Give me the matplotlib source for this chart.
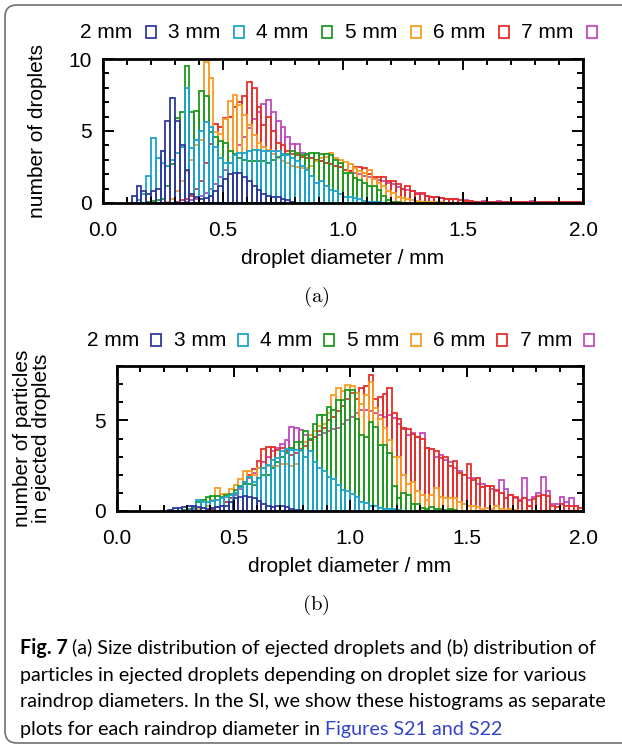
import numpy as np
import matplotlib
matplotlib.use("Agg")
import matplotlib.pyplot as plt
from matplotlib.patches import Rectangle, FancyBboxPatch
from matplotlib.ticker import MultipleLocator

plt.rcParams['font.family'] = ['Liberation Sans Narrow', 'Liberation Sans', 'DejaVu Sans']
plt.rcParams['mathtext.fontset'] = 'cm'

W, H = 622, 747
def fx(px):
    return px / W
def fy(py):
    return 1 - py / H

bin_w = 0.02
labels = ['2 mm', '3 mm', '4 mm', '5 mm', '6 mm', '7 mm']
colors = ['#2e3c9c', '#1ca5c8', '#1f9a1f', '#fb9b25', '#e5302b', '#c24bbd']

# (a) number of droplets, one value per 0.02 mm bin, starting at a_starts
a_starts = [0.12, 0.14, 0.18, 0.26, 0.30, 0.34]
a_2mm = [0.5, 1.15, 0.8, 0.6, 0.85, 1.0, 3.6, 5.7, 7.3, 5.7, 4.0, 2.3, 0.6, 0.4, 0.3,
         0.35, 0.5, 0.8, 1.2, 1.7, 2.0, 2.1, 2.05, 1.8, 1.5, 1.2, 0.9, 0.6, 0.5, 0.4,
         0.4, 0.3, 0.2, 0.1]
a_3mm = [0.2, 0.6, 1.9, 4.5, 3.1, 2.8, 2.6, 3.0, 3.5, 3.9, 8.0, 3.8, 4.4, 5.0, 5.6,
         5.3, 3.9, 3.1, 2.8, 2.8, 3.3, 3.5, 3.5, 3.6, 3.7, 3.7, 3.6, 3.6, 3.6, 3.6,
         3.4, 3.3, 3.1, 2.9, 2.6, 2.3, 1.9, 1.4, 1.5, 1.15, 0.9, 0.8, 0.6, 0.45, 0.4,
         0.35, 0.25, 0.15, 0.1, 0.08, 0.05]
a_4mm = [0.1, 0.15, 0.2, 0.3, 1.2, 2.7, 5.9, 6.3, 9.5, 6.3, 6.4, 7.8, 7.4, 4.9, 4.6,
         4.3, 4.2, 3.6, 3.4, 3.1, 3.0, 2.9, 2.9, 2.9, 2.9, 2.8, 3.0, 3.2, 3.3, 3.4,
         3.6, 3.5, 3.3, 3.4, 3.5, 3.5, 3.4, 3.4, 3.3, 3.0, 2.75, 2.1, 2.1, 1.75, 1.6,
         1.4, 1.2, 1.2, 0.9, 0.5, 0.2, 0.1, 0.05]
a_5mm = [0.1, 0.3, 0.8, 1.5, 2.2, 3.0, 4.0, 4.4, 9.8, 8.7, 4.9, 4.8, 5.8, 7.1, 7.5,
         6.8, 6.1, 5.4, 4.7, 4.2, 3.9, 3.7, 3.4, 3.1, 2.9, 2.8, 2.6, 2.5, 2.4, 2.4,
         2.6, 2.9, 3.1, 3.2, 3.45, 3.1, 3.0, 2.85, 2.7, 2.4, 2.2, 2.1, 2.3, 1.7, 1.4,
         1.2, 0.8, 0.7, 0.45, 0.35, 0.3, 0.2, 0.15, 0.1, 0.1, 0.05, 0.05, 0.05]
a_6mm = [0.1, 0.2, 0.3, 0.5, 1.0, 1.5, 2.8, 4.1, 5.5, 5.3, 5.9, 6.0, 6.7, 7.0, 7.4,
         8.4, 8.0, 6.7, 5.4, 6.0, 5.0, 4.2, 4.0, 3.6, 3.4, 3.3, 3.2, 3.1, 3.1, 3.0,
         2.9, 2.8, 2.7, 2.6, 2.5, 2.3, 2.2, 2.5, 2.5, 2.4, 2.0, 1.8, 1.8, 1.8, 1.5,
         1.5, 1.3, 0.95, 1.2, 0.8, 0.6, 0.7, 0.5, 0.45, 0.4, 0.35, 0.3, 0.3, 0.25, 0.2,
         0.15, 0.15, 0.1, 0.1, 0.1, 0.05, 0.1, 0.05, 0.05, 0.1, 0.05, 0.05, 0.05, 0.1,
         0.05, 0.05, 0.05, 0.05, 0.05, 0.05, 0.05, 0.05, 0.05, 0.05, 0.05]
a_7mm = [0.1, 0.2, 0.3, 0.5, 0.7, 1.0, 1.3, 1.8, 2.3, 2.8, 3.4, 4.0, 4.6, 5.2, 5.8,
         6.3, 6.85, 7.15, 6.3, 5.7, 5.3, 4.6, 4.1, 4.1, 3.5, 3.3, 3.1, 3.0, 2.9, 2.8,
         2.7, 2.6, 2.5, 2.3, 2.2, 2.1, 2.0, 1.9, 1.8, 1.7, 1.6, 1.5, 1.4, 1.3, 1.1,
         1.0, 0.9, 0.8, 0.7, 0.6, 0.5, 0.45, 0.4, 0.35, 0.3, 0.3, 0.25, 0.2, 0.2, 0.15,
         0.1, 0.1, 0.15, 0.1, 0.1, 0.15, 0.1, 0.1, 0.1, 0.1, 0.1, 0.1, 0.15, 0.1, 0.1,
         0.1, 0.1, 0.1, 0.1, 0.1, 0.05, 0.05, 0.05]

# (b) number of particles in ejected droplets
b_starts = [0.22, 0.30, 0.28, 0.34, 0.40, 0.38]
b_2mm = [0.05, 0.15, 0.15, 0.2, 0.3, 0.25, 0.2, 0.15, 0.1, 0.15, 0.2, 0.25, 0.3, 0.5,
         0.7, 0.75, 0.83, 0.8, 0.7, 0.55, 0.4, 0.3, 0.2, 0.25, 0.3, 0.2, 0.1, 0.05, 0.05]
b_3mm = [0.05, 0.1, 0.6, 0.5, 0.5, 0.55, 0.6, 0.7, 0.8, 0.9, 1.0, 1.3, 1.6, 1.9, 1.6,
         1.8, 2.4, 2.55, 2.8, 2.9, 3.3, 3.4, 3.35, 3.35, 3.35, 3.0, 3.3, 2.7, 2.4, 2.2,
         1.85, 1.75, 1.45, 1.15, 1.1, 0.95, 0.75, 0.5, 0.45, 0.3, 0.25, 0.17, 0.12, 0.1,
         0.1, 0.05]
b_4mm = [0.05, 0.1, 0.2, 0.5, 0.6, 0.8, 0.85, 0.85, 0.8, 0.9, 0.95, 1.15, 1.4, 1.5,
         1.5, 1.45, 1.8, 2.0, 2.0, 2.4, 2.7, 3.0, 3.2, 3.5, 3.8, 3.8, 4.4, 4.0, 4.8,
         5.3, 5.3, 5.75, 5.6, 6.1, 6.1, 6.65, 6.65, 5.1, 4.2, 4.1, 4.9, 4.65, 3.65,
         3.65, 3.2, 1.4, 0.7, 1.0, 0.9, 0.4, 0.4, 0.15, 0.1, 0.2, 0.1, 0.1, 0.05, 0.1,
         0.05]
b_5mm = [0.1, 0.15, 0.3, 0.6, 1.25, 0.95, 0.95, 1.2, 1.45, 1.75, 2.2, 2.2, 2.0, 2.35,
         2.4, 2.5, 2.5, 2.5, 2.6, 2.6, 2.5, 2.6, 3.3, 3.8, 4.2, 4.4, 4.7, 4.8, 5.4, 6.4,
         6.8, 6.6, 6.95, 6.9, 6.5, 5.9, 6.4, 7.1, 5.7, 5.1, 4.6, 3.9, 3.0, 3.0, 2.0,
         1.5, 1.6, 1.1, 0.9, 0.6, 0.9, 1.25, 0.8, 0.7, 0.7, 0.7, 0.5, 0.4, 0.3, 0.3,
         0.2, 0.1, 0.15, 0.1, 0.3, 0.1, 0.05, 0.1, 0.05]
b_6mm = [0.1, 0.2, 0.3, 0.5, 0.7, 1.0, 1.3, 1.6, 2.0, 2.3, 2.75, 3.4, 3.55, 3.55, 3.35,
         3.5, 3.3, 3.1, 3.2, 3.4, 3.6, 3.9, 4.1, 4.4, 4.6, 5.0, 5.2, 5.5, 5.8, 6.2,
         6.5, 6.2, 6.8, 6.9, 7.5, 6.2, 6.3, 6.45, 6.8, 5.4, 5.05, 4.6, 4.5, 4.25, 4.1,
         4.0, 3.5, 3.4, 3.3, 2.9, 3.0, 2.5, 2.75, 2.1, 2.0, 2.6, 1.7, 1.8, 1.3, 1.4,
         1.4, 1.15, 1.0, 0.7, 0.9, 0.8, 0.55, 0.7, 0.3, 0.65, 0.85, 0.9, 0.85, 0.3, 0.2,
         0.4, 0.3, 0.3, 0.25, 0.15]
b_7mm = [0.05, 0.1, 0.2, 0.3, 0.5, 0.7, 0.9, 1.2, 1.5, 1.8, 2.1, 2.4, 2.7, 3.0, 3.3,
         3.5, 3.7, 3.9, 4.66, 4.6, 4.45, 4.17, 4.2, 4.1, 4.2, 4.3, 4.4, 4.5, 4.6, 4.8,
         5.0, 5.2, 5.4, 5.6, 5.6, 5.5, 5.4, 5.3, 5.2, 5.3, 5.15, 4.8, 4.5, 4.2, 4.3,
         4.1, 4.3, 3.5, 3.4, 3.0, 3.1, 2.8, 2.7, 2.4, 2.2, 2.0, 1.8, 1.8, 1.5, 1.5,
         1.4, 1.2, 1.1, 1.7, 1.2, 0.9, 0.7, 0.6, 1.8, 0.6, 0.8, 1.0, 1.9, 1.1, 0.4,
         0.4, 0.8, 0.5, 0.7, 0.3]

a_series = [a_2mm, a_3mm, a_4mm, a_5mm, a_6mm, a_7mm]
b_series = [b_2mm, b_3mm, b_4mm, b_5mm, b_6mm, b_7mm]

FS = 15

fig = plt.figure(figsize=(W / 100, H / 100), dpi=100)

# rounded frame round the whole figure
frame = FancyBboxPatch((5, 4), 700, H - 9, boxstyle='round,pad=0,rounding_size=12',
                       transform=None, facecolor='none', edgecolor='#707070', lw=1.2)
fig.patches.append(frame)

ax_a = fig.add_axes([fx(103), fy(203), (583 - 103) / W, (203 - 59) / H])
ax_b = fig.add_axes([fx(117), fy(511), (583 - 117) / W, (511 - 366) / H])


def draw_panel(ax, series, starts, ymax):
    # largest raindrop first so the small ones end up on top
    for i in range(len(series) - 1, -1, -1):
        h = np.array(series[i])
        left = starts[i] + bin_w * np.arange(len(h))
        ax.bar(left, h, width=bin_w, align='edge', fill=False,
               edgecolor=colors[i], linewidth=1.3)
    ax.set_xlim(0, 2)
    ax.set_ylim(0, ymax)
    ax.set_xticks([0, 0.5, 1.0, 1.5, 2.0])
    ax.set_xticklabels(['0.0', '0.5', '1.0', '1.5', '2.0'])
    ax.xaxis.set_minor_locator(MultipleLocator(0.1))
    ax.yaxis.set_major_locator(MultipleLocator(5))
    ax.yaxis.set_minor_locator(MultipleLocator(1))
    ax.tick_params(which='both', direction='in', top=True, right=True, width=1.4,
                   labelsize=FS)
    ax.tick_params(which='major', length=8)
    ax.tick_params(which='minor', length=4)
    ax.tick_params(axis='x', pad=13)
    ax.tick_params(axis='y', pad=8)
    for s in ax.spines.values():
        s.set_linewidth(2)


def draw_legend(x0, step, ypx, sq_off):
    for i, lab in enumerate(labels):
        x = x0 + step * i
        fig.text(fx(x), fy(ypx), lab, fontsize=FS, ha='left', va='center')
        fig.patches.append(Rectangle((fx(x + sq_off), fy(ypx + 6)), 10 / W, 12 / H,
                                     transform=fig.transFigure, fill=False,
                                     edgecolor=colors[i], lw=1.3))


draw_panel(ax_a, a_series, a_starts, 10)
draw_panel(ax_b, b_series, b_starts, 8)

draw_legend(80, 88.2, 32, 66)
draw_legend(87, 86.6, 340, 64)

fig.text(fx(38), fy(131), 'number of droplets', rotation=90, fontsize=FS,
         ha='center', va='center')
fig.text(fx(343), fy(258), 'droplet diameter / mm', fontsize=FS, ha='center', va='center')
fig.text(fx(316), fy(297), r'$\mathrm{(a)}$', fontsize=15, ha='center', va='center')

fig.text(fx(32), fy(438), 'number of particles\nin ejected droplets', rotation=90,
         fontsize=FS, ha='center', va='center', linespacing=1.05)
fig.text(fx(350), fy(566), 'droplet diameter / mm', fontsize=FS, ha='center', va='center')
fig.text(fx(316), fy(605), r'$\mathrm{(b)}$', fontsize=15, ha='center', va='center')

# caption
cap_font = ['Lato', 'DejaVu Sans']
cap_size = 14.2
cap_lines = ['(a) Size distribution of ejected droplets and (b) distribution of',
             'particles in ejected droplets depending on droplet size for various',
             'raindrop diameters. In the SI, we show these histograms as separate',
             'plots for each raindrop diameter in ']
cap_y = [648, 675, 702, 729]
renderer = fig.canvas.get_renderer()
t = fig.text(fx(20), fy(cap_y[0]), 'Fig. 7 ', fontsize=cap_size, family=cap_font,
             weight='bold', ha='left', va='center')
wpx = t.get_window_extent(renderer).width
fig.text(fx(20 + wpx), fy(cap_y[0]), cap_lines[0], fontsize=cap_size, family=cap_font,
         ha='left', va='center')
for k in range(1, 4):
    t = fig.text(fx(20), fy(cap_y[k]), cap_lines[k], fontsize=cap_size, family=cap_font,
                 ha='left', va='center')
wpx = t.get_window_extent(renderer).width
fig.text(fx(20 + wpx), fy(cap_y[3]), 'Figures S21 and S22', fontsize=cap_size,
         family=cap_font, color='#3344cc', ha='left', va='center')

fig.savefig('out.png', dpi=100)
